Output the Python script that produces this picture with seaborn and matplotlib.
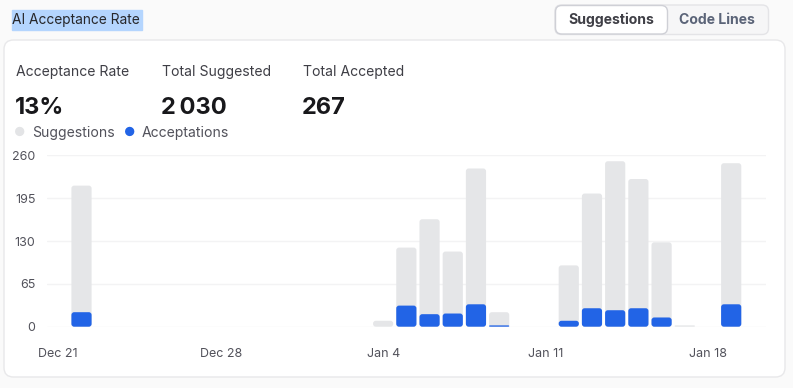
import pandas as pd
import seaborn as sns
import matplotlib.pyplot as plt
from matplotlib.patches import FancyBboxPatch

# dane: dni od 21 gru do 20 sty
days = pd.date_range('2024-12-21', '2025-01-20', freq='D')
day_labels = [d.strftime('%b %d') for d in days]

active_days = ['Dec 22', 'Jan 04', 'Jan 05', 'Jan 06', 'Jan 07', 'Jan 08', 'Jan 09',
               'Jan 12', 'Jan 13', 'Jan 14', 'Jan 15', 'Jan 16', 'Jan 17', 'Jan 19']
suggested = [214, 9, 120, 163, 114, 240, 22, 93, 202, 251, 224, 128, 2, 248]
accepted = [22, 0, 32, 19, 20, 34, 2, 9, 28, 25, 28, 14, 0, 34]

tick_days = ['Dec 21', 'Dec 28', 'Jan 04', 'Jan 11', 'Jan 18']
tick_text = ['Dec 21', 'Dec 28', 'Jan 4', 'Jan 11', 'Jan 18']
y_ticks = [0, 65, 130, 195, 260]

df = pd.DataFrame({'day': day_labels})
df['suggested'] = df.day.map(dict(zip(active_days, suggested))).fillna(0)
df['accepted'] = df.day.map(dict(zip(active_days, accepted))).fillna(0)

GRAY = '#e5e6e8'
BLUE = '#2264e6'
W, H = 793, 388

sns.set_style('white')
plt.rcParams['font.family'] = ['Inter', 'DejaVu Sans']

fig = plt.figure(figsize=(W / 100, H / 100), dpi=100, facecolor='#fafafa')


def px(x, y):
    return x / W, 1 - y / H


# karta
card = FancyBboxPatch((4 / W, 1 - 377 / H), 781 / W, 337 / H,
                      boxstyle='round,pad=0,rounding_size=0.012',
                      transform=fig.transFigure, facecolor='white',
                      edgecolor='#e8e8ea', linewidth=1, mutation_aspect=2.0, zorder=-10)
fig.patches.append(card)

# tytul z zaznaczeniem
fig.patches.append(plt.Rectangle(px(12, 29.5), 130 / W, 19.5 / H,
                                 transform=fig.transFigure, color='#b4d5fe', zorder=-5))
fig.text(*px(12, 20), 'AI Acceptance Rate', fontsize=9.9, color='#27272a', va='center')

# przyciski
fig.patches.append(FancyBboxPatch((555 / W, 1 - 34.5 / H), 213.5 / W, 29.5 / H,
                                  boxstyle='round,pad=0,rounding_size=0.008',
                                  transform=fig.transFigure, facecolor='#f6f6f7',
                                  edgecolor='#e4e4e7', linewidth=1, mutation_aspect=2.0,
                                  zorder=-5))
fig.patches.append(FancyBboxPatch((555.5 / W, 1 - 34 / H), 112 / W, 28.5 / H,
                                  boxstyle='round,pad=0,rounding_size=0.008',
                                  transform=fig.transFigure, facecolor='white',
                                  edgecolor='#cfd0d6', linewidth=1, mutation_aspect=2.0,
                                  zorder=-4))
fig.text(*px(611.5, 20), 'Suggestions', fontsize=10.1, fontweight='bold',
         color='#3f3f46', ha='center', va='center')
fig.text(*px(717, 20), 'Code Lines', fontsize=10.1, fontweight='bold',
         color='#5b6478', ha='center', va='center')

# statystyki
for x, lab, val in [(16, 'Acceptance Rate', '13%'), (162, 'Total Suggested', '2\u202f030'),
                    (303, 'Total Accepted', '267')]:
    fig.text(*px(x, 72), lab, fontsize=10.1, color='#3f3f46', va='center')
    fig.text(*px(x - 1, 108), val, fontsize=17, fontweight='bold', color='#18181b', va='center')

# legenda
fig.text(*px(20, 133), '\u25CF', fontsize=9, color='#e3e4e6', ha='center', va='center')
fig.text(*px(32, 133), 'Suggestions', fontsize=10.1, color='#52525b', va='center')
fig.text(*px(130, 133), '\u25CF', fontsize=9, color=BLUE, ha='center', va='center')
fig.text(*px(142, 133), 'Acceptations', fontsize=10.1, color='#52525b', va='center')

ax = fig.add_axes([46.7 / W, 61.3 / H, 719.3 / W, 171.4 / H])
ax.set_facecolor('none')
sns.barplot(data=df, x='day', y='suggested', order=day_labels, color=GRAY,
            width=0.87, saturation=1, ax=ax)
sns.barplot(data=df, x='day', y='accepted', order=day_labels, color=BLUE,
            width=0.87, saturation=1, ax=ax)

# zaokraglone rogi slupkow
aspect = (260 / 171.4) / (31 / 719.3)
for p in list(ax.patches):
    h = p.get_height()
    if h <= 0:
        p.remove()
        continue
    r = min(0.12, h / aspect / 2, p.get_width() / 2)
    fb = FancyBboxPatch((p.get_x(), p.get_y()), p.get_width(), h,
                        boxstyle=f'round,pad=0,rounding_size={r}',
                        mutation_aspect=aspect, facecolor=p.get_facecolor(),
                        edgecolor='none', zorder=p.get_zorder())
    p.remove()
    ax.add_patch(fb)

ax.set_xlim(-0.5, 30.5)
ax.set_ylim(0, 260)
ax.set_yticks(y_ticks)
ax.set_xticks([day_labels.index(d) for d in tick_days])
ax.set_xticklabels(tick_text)
ax.set_xlabel('')
ax.set_ylabel('')
ax.grid(axis='y', color='#f3f3f4', linewidth=1)
ax.set_axisbelow(True)
ax.tick_params(axis='y', length=0, pad=8, labelsize=9, labelcolor='#52525b')
ax.tick_params(axis='x', length=0, pad=15, labelsize=9, labelcolor='#52525b')
sns.despine(ax=ax, left=True, bottom=True)

plt.savefig('out.png', dpi=100, facecolor=fig.get_facecolor())
